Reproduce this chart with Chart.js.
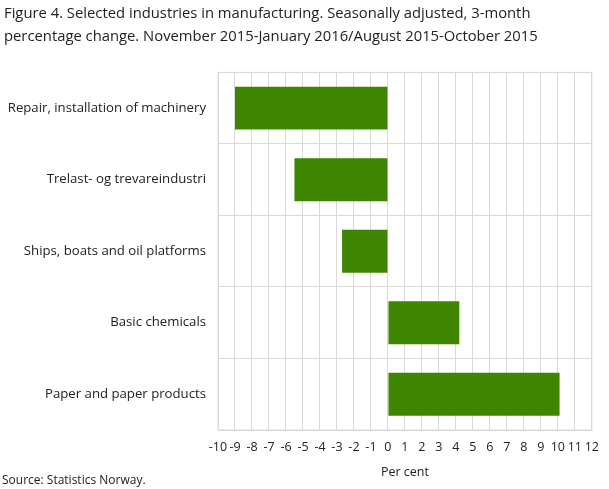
<!DOCTYPE html>
<html>
<head>
<meta charset="utf-8">
<script src="https://cdn.jsdelivr.net/npm/chart.js@4.4.1/dist/chart.umd.min.js"></script>
<style>
  body { margin: 0; background: #fff; }
  #wrap { position: relative; width: 609px; height: 489px; }
  #source {
    position: absolute; left: 2px; top: 471px;
    font-family: "Open Sans", sans-serif; font-size: 12px; color: #222;
  }
</style>
</head>
<body>
<div id="wrap">
  <canvas id="chart" width="609" height="489"></canvas>
  <div id="source">Source: Statistics Norway.</div>
</div>
<script>
var industries = [
    "Repair, installation of machinery",
    "Trelast- og trevareindustri",
    "Ships, boats and oil platforms",
    "Basic chemicals",
    "Paper and paper products"
];
var percentChange = [-9.0, -5.5, -2.7, 4.2, 10.1];
var axisMin = -10;
var axisMax = 12;

var titleLines = [
    "Figure 4. Selected industries in manufacturing. Seasonally adjusted, 3-month",
    "percentage change. November 2015-January 2016/August 2015-October 2015"
];

function CreateIndustryChart(id) {
    var ctx = document.getElementById(id).getContext("2d");
    var gridColour = '#d9d9d9';

    var myBarChart = new Chart(ctx, {
        type: 'bar',
        data: {
            labels: industries,
            datasets: [{
                label: 'Per cent',
                data: percentChange,
                backgroundColor: '#3f8600',
                borderWidth: 0,
                barPercentage: 0.6,
                categoryPercentage: 1.0
            }]
        },
        options: {
            indexAxis: 'y',
            responsive: false,
            animation: false,
            layout: { padding: { left: 4, right: 9, top: 0, bottom: 9 } },
            plugins: {
                legend: { display: false },
                tooltip: { enabled: false },
                title: {
                    display: true,
                    text: titleLines,
                    align: 'start',
                    color: '#222',
                    font: { family: 'Open Sans', size: 14.8, weight: 'normal', lineHeight: 1.5 },
                    padding: { top: 3, bottom: 25 }
                }
            },
            scales: {
                x: {
                    min: axisMin,
                    max: axisMax,
                    ticks: {
                        stepSize: 1,
                        autoSkip: false,
                        maxRotation: 0,
                        padding: 10,
                        color: '#222',
                        font: { family: 'Open Sans', size: 12.5 }
                    },
                    grid: { color: gridColour, drawTicks: false },
                    border: { display: true, color: gridColour },
                    title: {
                        display: true,
                        text: 'Per cent',
                        color: '#222',
                        font: { family: 'Open Sans', size: 12.5 },
                        padding: { top: 0, bottom: 0 }
                    }
                },
                y: {
                    // keep the label column the same width as the original
                    afterFit: function (scale) { scale.width = 214; },
                    ticks: {
                        padding: 12,
                        color: '#222',
                        font: { family: 'Open Sans', size: 13.2 }
                    },
                    grid: { color: gridColour, drawTicks: false, offset: true },
                    border: { display: true, color: gridColour }
                }
            }
        },
        plugins: [{
            id: 'frame',
            afterDatasetsDraw: function (chart) {
                var a = chart.chartArea;
                var c = chart.ctx;
                c.save();
                c.strokeStyle = gridColour;
                c.lineWidth = 1;
                c.strokeRect(a.left, a.top, a.right - a.left, a.bottom - a.top);
                c.restore();
            }
        }]
    });
}

CreateIndustryChart("chart");
</script>
</body>
</html>
